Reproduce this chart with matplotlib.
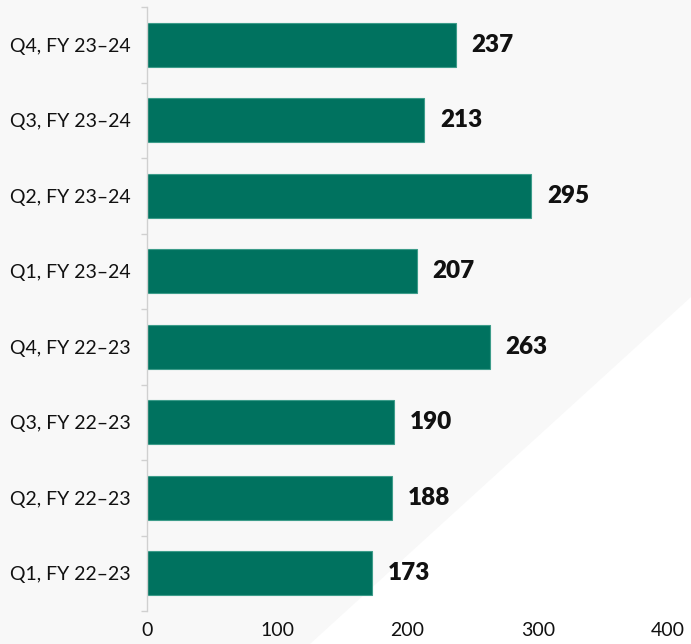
import matplotlib
matplotlib.use("Agg")
import matplotlib.pyplot as plt
from matplotlib.patches import Polygon

categories = ["Q1, FY 22-23", "Q2, FY 22-23", "Q3, FY 22-23", "Q4, FY 22-23",
              "Q1, FY 23-24", "Q2, FY 23-24", "Q3, FY 23-24", "Q4, FY 23-24"]
values = [173, 188, 190, 263, 207, 295, 213, 237]
xticks = [0, 100, 200, 300, 400]

plt.rcParams['font.family'] = ['Lato', 'DejaVu Sans']

fig = plt.figure(figsize=(6.91, 6.44), dpi=100)
fig.patch.set_facecolor("#f8f8f8")
tri = Polygon([(310/691, 0), (1, 0), (1, 1 - 297/644)], closed=True,
              transform=fig.transFigure, facecolor="white", edgecolor="none", zorder=-5)
fig.patches.append(tri)

ax = fig.add_axes([147/691, 1 - 611/644, (668 - 147)/691, (611 - 7)/644])
ax.set_facecolor("none")
ax.set_zorder(1)

ypos = list(range(len(categories)))
ax.barh(ypos, values, height=0.58, color="#00725f", edgecolor="#3d9c8a", linewidth=0.8)
for y, v in zip(ypos, values):
    ax.text(v + 12, y, str(v), va="center", ha="left", fontsize=17.5, fontweight="heavy", color="#111111")

ax.set_ylim(-0.5, len(categories) - 0.5)
ax.set_xlim(0, 400)
ax.set_yticks(ypos)
ax.set_yticklabels([c.replace("-", "\u2013") for c in categories], fontsize=14, color="#111111")
ax.set_yticks([y + 0.5 for y in ypos[:-1]] + [-0.5, len(categories) - 0.5], minor=True)
ax.tick_params(axis="y", which="major", length=0, pad=12)
ax.tick_params(axis="y", which="minor", length=4, color="#d0d0d0", width=1)
ax.set_xticks(xticks)
ax.set_xticklabels([str(t) for t in xticks], fontsize=14, color="#111111")
ax.tick_params(axis="x", length=0, pad=8)

for s in ["top", "right", "bottom"]:
    ax.spines[s].set_visible(False)
ax.spines["left"].set_color("#d0d0d0")
ax.spines["left"].set_linewidth(1)

fig.savefig("out.png", dpi=100, facecolor=fig.get_facecolor())
